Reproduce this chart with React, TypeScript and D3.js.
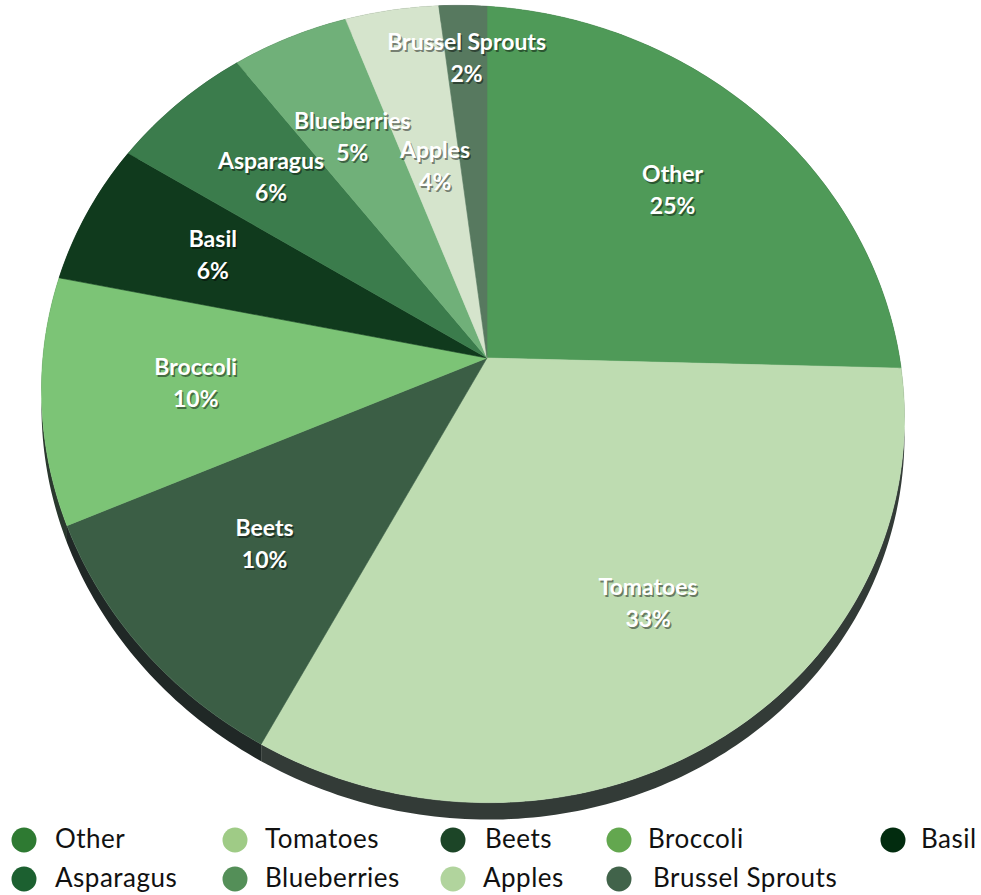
import React from "react";
import * as d3 from "d3";

const categories = ["Other", "Tomatoes", "Beets", "Broccoli", "Basil", "Asparagus", "Blueberries", "Apples", "Brussel Sprouts"];
const values = [24.8, 32.9, 10.25, 9.65, 5.8, 5.85, 4.85, 3.9, 2.0];

const sliceColors = ["#4f9a58", "#bedcb1", "#3b5e45", "#7cc476", "#103a1d", "#3b7c4c", "#70b079", "#d5e4cc", "#57795f"];
const legendColors = ["#2e7a32", "#9fcb86", "#1c4527", "#63a74f", "#022c0f", "#1c6030", "#548f58", "#b1d49d", "#41634a"];
const labelRadius = [0.66, 0.68, 0.67, 0.665, 0.685, 0.69, 0.665, 0.52, 0.83];

const W = 981, H = 895;
// projected (perspective) disc geometry: rotated ellipse rim + projected centre
const EX = 473, EY = 404, ERA = 433, ERB = 397, EPSI = (12 * Math.PI) / 180;
const PX = 487, PY = 358;
const DEPTH = 17;

const cps = Math.cos(EPSI), sps = Math.sin(EPSI);
function toImage(u: number, v: number): [number, number] {
  const x = ERA * u, y = ERB * v;
  return [EX + cps * x - sps * y, EY + sps * x + cps * y];
}
function fromImage(X: number, Y: number): [number, number] {
  const dx = X - EX, dy = Y - EY;
  const x = cps * dx + sps * dy, y = -sps * dx + cps * dy;
  return [x / ERA, y / ERB];
}

const [pu, pv] = fromImage(PX, PY);
const pr = Math.hypot(pu, pv), phi = Math.atan2(pv, pu);
const bt = Math.atanh(pr), ch = Math.cosh(bt), sh = Math.sinh(bt);

function boost(x: number, y: number, s: number): [number, number] {
  const c = Math.cos(phi), sn = Math.sin(phi);
  const xr = c * x + sn * y, yr = -sn * x + c * y;
  const w = s * sh * xr + ch;
  const xb = (ch * xr + s * sh) / w, yb = yr / w;
  return [c * xb - sn * yb, sn * xb + c * yb];
}

// find the rim point straight above the centre (start of the first slice)
function rimAbove(): [number, number] {
  let lo = 0, hi = 600;
  for (let k = 0; k < 60; k++) {
    const m = (lo + hi) / 2;
    const [u, v] = fromImage(PX, PY - m);
    if (u * u + v * v < 1) lo = m; else hi = m;
  }
  return fromImage(PX, PY - lo);
}
const ra = rimAbove();
const q = boost(ra[0], ra[1], -1);
const theta0 = Math.atan2(q[1], q[0]);

function project(a: number, rho: number): [number, number] {
  const th = theta0 + a;
  const [u, v] = boost(rho * Math.cos(th), rho * Math.sin(th), 1);
  return toImage(u, v);
}

const pie = d3.pie<number>().value((d) => d).sort(null);
const arcs = pie(values);
const total = d3.sum(values);
const line = d3.line();

function arcPoints(a0: number, a1: number, dy = 0): [number, number][] {
  const n = Math.max(4, Math.ceil(((a1 - a0) / (Math.PI * 2)) * 400));
  return d3.range(n + 1).map((i) => {
    const p = project(a0 + ((a1 - a0) * i) / n, 1);
    return [p[0], p[1] + dy] as [number, number];
  });
}

const sideColor = (c: string) => d3.interpolateRgb(c, "#1b1f21")(0.85);

const legendMarkX = [24, 235, 453, 619, 893];
const legendTextX = [[55, 265, 485, 648, 921], [55, 265, 483, 653]];

export default function App() {
  const sides = arcs.map((a, i) => {
    const top = arcPoints(a.startAngle, a.endAngle);
    const bot = arcPoints(a.startAngle, a.endAngle, DEPTH).reverse();
    return <path key={"s" + i} d={line([...top, ...bot]) + "Z"} fill={sideColor(sliceColors[i])} />;
  });
  const slices = arcs.map((a, i) => {
    const pts = [[PX, PY] as [number, number], ...arcPoints(a.startAngle, a.endAngle)];
    return <path key={"p" + i} d={line(pts) + "Z"} fill={sliceColors[i]} stroke={sliceColors[i]} strokeWidth={0.6} />;
  });
  const labels = arcs.map((a, i) => {
    const mid = (a.startAngle + a.endAngle) / 2;
    const [x, y] = project(mid, labelRadius[i]);
    const pct = Math.round((values[i] / total) * 100) + "%";
    const style = { fontFamily: "Lato, 'Open Sans', sans-serif", fontWeight: 700, fontSize: 23 } as React.CSSProperties;
    return (
      <g key={"l" + i} textAnchor="middle" style={style}>
        <text x={x + 1.5} y={y - 16 + 1.8} dominantBaseline="middle" fill="rgba(0,0,0,0.45)">{categories[i]}</text>
        <text x={x + 1.5} y={y + 16 + 1.8} dominantBaseline="middle" fill="rgba(0,0,0,0.45)">{pct}</text>
        <text x={x} y={y - 16} dominantBaseline="middle" fill="#ffffff">{categories[i]}</text>
        <text x={x} y={y + 16} dominantBaseline="middle" fill="#ffffff">{pct}</text>
      </g>
    );
  });
  const legend = categories.map((c, i) => {
    const row = i < 5 ? 0 : 1;
    const col = i < 5 ? i : i - 5;
    const cy = row === 0 ? 840 : 879;
    return (
      <g key={"g" + i}>
        <circle cx={legendMarkX[col]} cy={cy} r={12.5} fill={legendColors[i]} />
        <text x={legendTextX[row][col]} y={cy + 1} dominantBaseline="middle" fill="#111" style={{ fontFamily: "Lato, sans-serif", fontWeight: 400, fontSize: 26, letterSpacing: 0.5 }}>{c}</text>
      </g>
    );
  });
  return (
    <svg width={W} height={H} viewBox={`0 0 ${W} ${H}`} style={{ position: "absolute", left: 0, top: 0 }}>
      <rect width={W} height={H} fill="#ffffff" />
      {sides}
      {slices}
      {labels}
      {legend}
    </svg>
  );
}
